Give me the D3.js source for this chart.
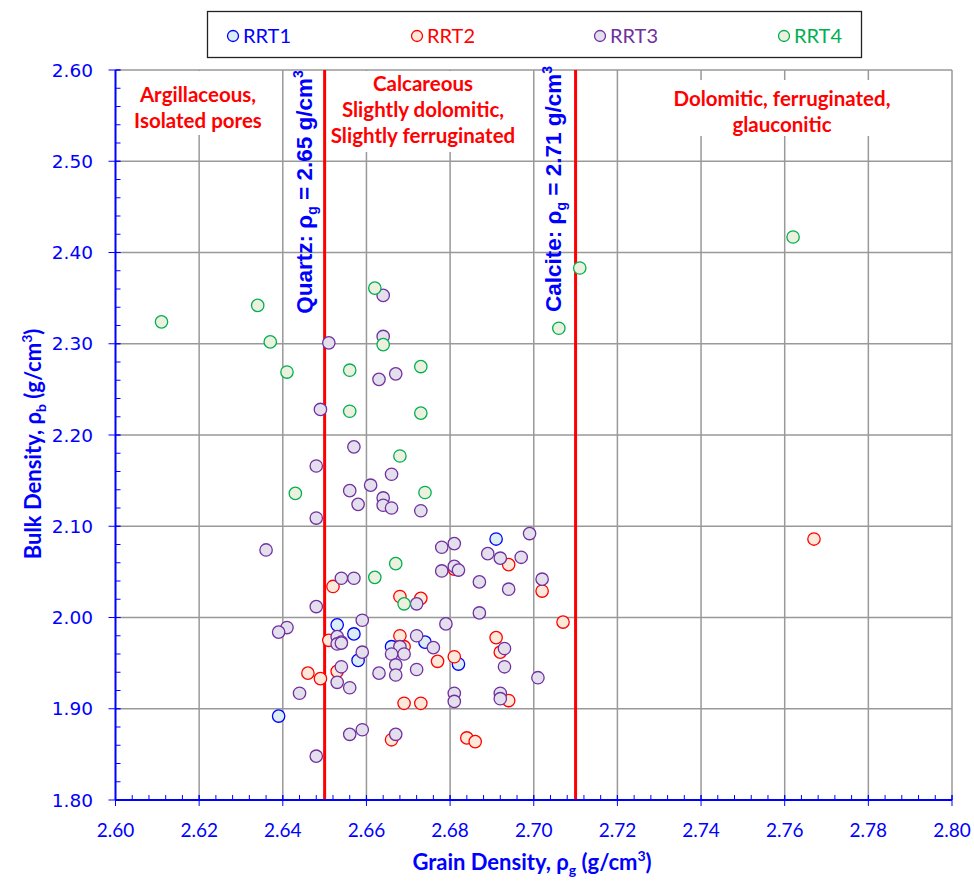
<!DOCTYPE html>
<html>
<head>
<meta charset="utf-8">
<script src="https://cdn.jsdelivr.net/npm/d3@7"></script>
<style>
  html, body { margin: 0; padding: 0; background: #fff; }
  svg { display: block; }
</style>
</head>
<body>
<svg id="chart" width="974" height="881"></svg>
<script>
// Grain density (x) and bulk density (y) per rock type
const rrt1Grain = [2.653, 2.657, 2.674, 2.666, 2.658, 2.639, 2.691, 2.682];
const rrt1Bulk  = [1.992, 1.982, 1.973, 1.968, 1.953, 1.892, 2.086, 1.949];

const rrt2Grain = [2.767, 2.702, 2.707, 2.652, 2.668, 2.673, 2.651, 2.668, 2.669, 2.677, 2.646, 2.649,
                   2.653, 2.669, 2.673, 2.666, 2.694, 2.681, 2.691, 2.692, 2.681, 2.694, 2.684, 2.686];
const rrt2Bulk  = [2.086, 2.029, 1.995, 2.034, 2.023, 2.021, 1.975, 1.980, 1.968, 1.952, 1.939, 1.933,
                   1.941, 1.906, 1.906, 1.866, 2.058, 2.053, 1.978, 1.962, 1.957, 1.909, 1.868, 1.864];

const rrt3Grain = [2.651, 2.664, 2.664, 2.663, 2.667, 2.649, 2.657, 2.648, 2.666, 2.661, 2.656, 2.664,
                   2.658, 2.664, 2.666, 2.673, 2.648, 2.636, 2.678, 2.681, 2.699, 2.689, 2.692, 2.697,
                   2.678, 2.681, 2.682, 2.654, 2.657, 2.687, 2.702, 2.694, 2.672, 2.648, 2.687, 2.659,
                   2.679, 2.641, 2.639, 2.653, 2.654, 2.653, 2.654, 2.672, 2.676, 2.668, 2.666, 2.669,
                   2.659, 2.693, 2.693, 2.654, 2.667, 2.672, 2.653, 2.656, 2.644, 2.663, 2.667, 2.701,
                   2.681, 2.681, 2.692, 2.692, 2.656, 2.659, 2.667, 2.648];
const rrt3Bulk  = [2.301, 2.353, 2.308, 2.261, 2.267, 2.228, 2.187, 2.166, 2.157, 2.145, 2.139, 2.131,
                   2.124, 2.123, 2.120, 2.117, 2.109, 2.074, 2.077, 2.081, 2.092, 2.070, 2.065, 2.066,
                   2.051, 2.056, 2.052, 2.043, 2.043, 2.039, 2.042, 2.031, 2.015, 2.012, 2.005, 1.997,
                   1.993, 1.989, 1.984, 1.979, 1.973, 1.971, 1.972, 1.980, 1.967, 1.968, 1.960, 1.960,
                   1.962, 1.966, 1.946, 1.946, 1.948, 1.943, 1.929, 1.923, 1.917, 1.939, 1.937, 1.934,
                   1.917, 1.908, 1.917, 1.911, 1.872, 1.877, 1.872, 1.848];

const rrt4Grain = [2.611, 2.634, 2.637, 2.662, 2.664, 2.706, 2.711, 2.762, 2.641, 2.656, 2.673, 2.656,
                   2.673, 2.668, 2.643, 2.674, 2.667, 2.662, 2.669];
const rrt4Bulk  = [2.324, 2.342, 2.302, 2.361, 2.299, 2.317, 2.383, 2.417, 2.269, 2.271, 2.275, 2.226,
                   2.224, 2.177, 2.136, 2.137, 2.059, 2.044, 2.015];

const seriesNames = ["RRT1", "RRT2", "RRT3", "RRT4"];
const xTicks = [2.60, 2.62, 2.64, 2.66, 2.68, 2.70, 2.72, 2.74, 2.76, 2.78, 2.80];
const yTicks = [1.80, 1.90, 2.00, 2.10, 2.20, 2.30, 2.40, 2.50, 2.60];
const mineralLines = [2.65, 2.71];

const styles = {
  RRT1: { stroke: "#0000FF", fill: "#DAEEF3" },
  RRT2: { stroke: "#FF0000", fill: "#FDE9D9" },
  RRT3: { stroke: "#7030A0", fill: "#E4DFEC" },
  RRT4: { stroke: "#00B050", fill: "#EBF1DE" }
};

const series = [
  { name: "RRT1", grain: rrt1Grain, bulk: rrt1Bulk },
  { name: "RRT2", grain: rrt2Grain, bulk: rrt2Bulk },
  { name: "RRT3", grain: rrt3Grain, bulk: rrt3Bulk },
  { name: "RRT4", grain: rrt4Grain, bulk: rrt4Bulk }
];

const svg = d3.select("#chart");
const plotL = 115.5, plotT = 70, plotR = 952, plotB = 800;

const x = d3.scaleLinear().domain([2.60, 2.80]).range([plotL, plotR]);
const y = d3.scaleLinear().domain([1.80, 2.60]).range([plotB, plotT]);

const calibri = "Lato, 'Open Sans', sans-serif";
const blue = "#0000FF";

// Grid
const grid = svg.append("g");
grid.selectAll("line.gx").data(xTicks.slice(1)).join("line")
  .attr("x1", d => x(d)).attr("x2", d => x(d))
  .attr("y1", plotT).attr("y2", plotB)
  .attr("stroke", "#999").attr("stroke-width", 1.5);
grid.selectAll("line.gy").data(yTicks.slice(1)).join("line")
  .attr("x1", plotL).attr("x2", plotR)
  .attr("y1", d => y(d)).attr("y2", d => y(d))
  .attr("stroke", "#999").attr("stroke-width", 1.5);

// Region labels with white backing
function regionLabel(cx, lines, y0, dy, box) {
  const g = svg.append("g");
  g.append("rect").attr("x", box[0]).attr("y", box[1]).attr("width", box[2]).attr("height", box[3]).attr("fill", "#fff");
  lines.forEach((t, i) => {
    g.append("text").attr("x", cx).attr("y", y0 + i * dy)
      .attr("text-anchor", "middle")
      .attr("font-family", calibri).attr("font-weight", "bold").attr("font-size", 20.5)
      .attr("fill", "#FF0000").text(t);
  });
}
regionLabel(198, ["Argillaceous,", "Isolated pores"], 102, 26, [134, 71, 130, 64]);
regionLabel(423, ["Calcareous", "Slightly dolomitic,", "Slightly ferruginated"], 91, 26, [329, 71, 188, 81]);
regionLabel(782, ["Dolomitic, ferruginated,", "glauconitic"], 106, 26, [668, 80, 228, 56]);

// Mineral reference lines
svg.selectAll("line.mineral").data(mineralLines).join("line")
  .attr("x1", d => x(d)).attr("x2", d => x(d))
  .attr("y1", plotT).attr("y2", plotB)
  .attr("stroke", "#FF0000").attr("stroke-width", 3);

function mineralLabel(cx, cy, name, val) {
  const t = svg.append("text")
    .attr("transform", `translate(${cx},${cy}) rotate(-90)`)
    .attr("text-anchor", "middle")
    .attr("font-family", "'Liberation Sans', Arial, sans-serif")
    .attr("font-weight", "bold").attr("font-size", 22.5)
    .attr("fill", blue);
  t.append("tspan").text(name + ": ρ");
  t.append("tspan").attr("font-size", 14).attr("dy", 5).text("g");
  t.append("tspan").attr("dy", -5).text(" = " + val + " g/cm");
  t.append("tspan").attr("font-size", 14).attr("dy", -9).text("3");
}
mineralLabel(312, 192, "Quartz", "2.65");
mineralLabel(561, 189, "Calcite", "2.71");

// Axes
const axisG = svg.append("g");
axisG.append("line").attr("x1", plotL).attr("x2", plotR).attr("y1", plotB).attr("y2", plotB)
  .attr("stroke", blue).attr("stroke-width", 2);
axisG.append("line").attr("x1", plotL).attr("x2", plotL).attr("y1", plotT).attr("y2", plotB)
  .attr("stroke", blue).attr("stroke-width", 2);

const xMinor = d3.range(0, 51).map(i => 2.60 + i * 0.004);
const yMinor = d3.range(0, 41).map(i => 1.80 + i * 0.02);
axisG.selectAll("line.xm").data(xMinor).join("line")
  .attr("x1", d => x(d)).attr("x2", d => x(d)).attr("y1", plotB).attr("y2", plotB - 5)
  .attr("stroke", blue).attr("stroke-width", 1);
axisG.selectAll("line.xM").data(xTicks).join("line")
  .attr("x1", d => x(d)).attr("x2", d => x(d)).attr("y1", plotB - 5).attr("y2", plotB + 6)
  .attr("stroke", blue).attr("stroke-width", 1);
axisG.selectAll("line.ym").data(yMinor).join("line")
  .attr("x1", plotL).attr("x2", plotL + 5).attr("y1", d => y(d)).attr("y2", d => y(d))
  .attr("stroke", blue).attr("stroke-width", 1);
axisG.selectAll("line.yM").data(yTicks).join("line")
  .attr("x1", plotL - 7).attr("x2", plotL + 5).attr("y1", d => y(d)).attr("y2", d => y(d))
  .attr("stroke", blue).attr("stroke-width", 1);

axisG.selectAll("text.xl").data(xTicks).join("text")
  .attr("x", d => x(d)).attr("y", 837)
  .attr("text-anchor", "middle")
  .attr("font-family", calibri).attr("font-size", 19)
  .attr("fill", blue).text(d => d.toFixed(2));
axisG.selectAll("text.yl").data(yTicks).join("text")
  .attr("x", 93).attr("y", d => y(d) + 6.5)
  .attr("text-anchor", "end")
  .attr("font-family", "'DejaVu Sans', Verdana, sans-serif").attr("font-size", 18.5)
  .attr("fill", blue).text(d => d.toFixed(2));

// Axis titles
const xt = svg.append("text").attr("x", 532).attr("y", 870).attr("text-anchor", "middle")
  .attr("font-family", calibri).attr("font-weight", "bold").attr("font-size", 22).attr("fill", blue);
xt.append("tspan").text("Grain Density, ρ");
xt.append("tspan").attr("font-size", 14).attr("dy", 5).text("g");
xt.append("tspan").attr("dy", -5).text(" (g/cm");
xt.append("tspan").attr("font-size", 14).attr("dy", -9).text("3");
xt.append("tspan").attr("dy", 9).text(")");

const yt = svg.append("text").attr("transform", "translate(41,444) rotate(-90)").attr("text-anchor", "middle")
  .attr("font-family", calibri).attr("font-weight", "bold").attr("font-size", 22).attr("fill", blue);
yt.append("tspan").text("Bulk Density, ρ");
yt.append("tspan").attr("font-size", 14).attr("dy", 5).text("b");
yt.append("tspan").attr("dy", -5).text(" (g/cm");
yt.append("tspan").attr("font-size", 14).attr("dy", -9).text("3");
yt.append("tspan").attr("dy", 9).text(")");

// Points
const pts = svg.append("g");
series.forEach(s => {
  const data = s.grain.map((g, i) => ({ g, b: s.bulk[i] }));
  pts.append("g").selectAll("circle").data(data).join("circle")
    .attr("cx", d => x(d.g)).attr("cy", d => y(d.b)).attr("r", 6.2)
    .attr("fill", styles[s.name].fill)
    .attr("stroke", styles[s.name].stroke).attr("stroke-width", 1.3);
});

// Legend
const lg = svg.append("g");
lg.append("rect").attr("x", 207.5).attr("y", 11.5).attr("width", 654).attr("height", 46)
  .attr("fill", "#fff").attr("stroke", "#222").attr("stroke-width", 1.3);
const legendX = [233, 417, 600, 784];
seriesNames.forEach((n, i) => {
  lg.append("circle").attr("cx", legendX[i]).attr("cy", 36).attr("r", 5.5)
    .attr("fill", styles[n].fill).attr("stroke", styles[n].stroke).attr("stroke-width", 1.3);
  lg.append("text").attr("x", legendX[i] + 10).attr("y", 43)
    .attr("font-family", calibri).attr("font-size", 20)
    .attr("fill", styles[n].stroke).text(n);
});
</script>
</body>
</html>
